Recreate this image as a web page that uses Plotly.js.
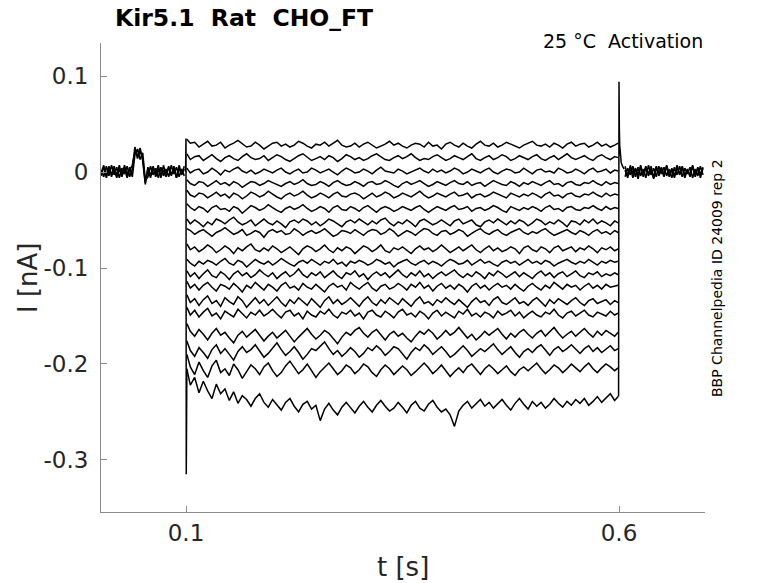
<!DOCTYPE html>
<html>
<head>
<meta charset="utf-8">
<script src="https://cdn.plot.ly/plotly-3.0.1.min.js"></script>
<style>
  html, body { margin: 0; padding: 0; background: #fff; }
  #chart { width: 778px; height: 583px; }
</style>
</head>
<body>
<div id="chart"></div>
<script>
// Kir5.1 activation sweeps, currents in pA (converted to nA below)

// holding period before the step
const preT = [0.002,0.005,0.008,0.011,0.014,0.017,0.020,0.023,0.026,0.029,0.032,0.035,0.038,
  0.041,0.044,0.047,0.050,0.053,0.056,0.059,0.062,0.065,0.068,0.071,0.074,0.077,0.080,
  0.083,0.086,0.089,0.092,0.095,0.098];
const preA = [2,-5,6,-4,7,-3,5,-6,4,-2,6,-5,3, 26,14,22,15, -13,
  5,-4,6,-5,3,-6,7,-3,5,-4,6,-6,4,-3,6];
const preB = [-4,5,-3,6,-5,4,-6,3,-4,7,-3,5,-5, 18,24,13,20, -9,
  -5,6,-3,4,-6,5,-4,3,-5,7,-2,5,-5,3,-4];
const preC = [-1,7,-6,3,-2,6,-4,7,-5,4,-6,2,7, 21,17,25,12, -11,
  3,-6,5,-2,7,-4,2,-5,6,-3,4,-6,7,-2,3];

// capacitive transients at step on / off
const onT = [0.0995, 0.1, 0.1003, 0.1006, 0.101];
const onI = [0, 35, -315, -240, -205];
const offT = [0.5995, 0.6, 0.6004, 0.6008, 0.6015, 0.6025, 0.604, 0.606];
const offI = [-234, 94, 45, 28, 18, 10, 6, 3];

// holding period after the step
const postT = [0.607,0.610,0.613,0.616,0.619,0.622,0.625,0.628,0.631,0.634,0.637,0.640,
  0.643,0.646,0.649,0.652,0.655,0.658,0.661,0.664,0.667,0.670,0.673,0.676,0.679,0.682,
  0.685,0.688,0.691,0.694,0.697];
const postA = [6,-4,5,-6,3,-3,7,-5,4,-2,6,-6,5,-4,3,-5,7,-3,4,-6,5,-2,6,-4,3,-5,6,-3,5,-6,4];
const postB = [-5,4,-3,6,-5,5,-4,3,-6,7,-3,4,-5,6,-2,5,-4,3,-6,5,-3,6,-5,4,-2,5,-6,3,-4,6,-3];
const postC = [2,-6,7,-2,4,-7,5,-1,6,-4,3,-7,6,-1,5,-3,6,-5,2,-4,7,-3,5,-6,2,-3,7,-5,4,-2,5];

// during the voltage step
const stepT = [0.101,0.105,0.110,0.115,0.120,0.125,0.130,0.135,0.140,0.145,
  0.150,0.155,0.160,0.165,0.170,0.175,0.180,0.185,0.190,0.195,
  0.200,0.205,0.210,0.215,0.220,0.225,0.230,0.235,0.240,0.245,
  0.250,0.255,0.260,0.265,0.270,0.275,0.280,0.285,0.290,0.295,
  0.300,0.305,0.310,0.315,0.320,0.325,0.330,0.335,0.340,0.345,
  0.350,0.355,0.360,0.365,0.370,0.375,0.380,0.385,0.390,0.395,
  0.400,0.405,0.410,0.415,0.420,0.425,0.430,0.435,0.440,0.445,
  0.450,0.455,0.460,0.465,0.470,0.475,0.480,0.485,0.490,0.495,
  0.500,0.505,0.510,0.515,0.520,0.525,0.530,0.535,0.540,0.545,
  0.550,0.555,0.560,0.565,0.570,0.575,0.580,0.585,0.590,0.595,
  0.599];

const sweep01 = [34,30,31,26,29,32,27,28,31,25, 28,30,33,29,26,27,31,28,24,27,
  30,31,27,29,26,28,32,30,27,25, 29,28,31,27,30,33,28,26,27,30,
  26,29,31,28,25,27,29,32,28,30, 27,25,28,30,29,26,31,27,28,24,
  29,31,28,26,30,27,25,29,32,28, 27,30,26,28,31,29,27,25,28,30,
  32,28,27,29,26,30,28,25,29,31, 27,29,30,26,28,31,27,29,26,28, 30];
const sweep02 = [19,13,16,17,12,15,18,14,11,15, 17,14,12,16,19,15,13,14,17,12,
  15,18,16,13,11,14,17,19,15,12, 14,16,13,17,15,11,14,18,16,13,
  15,12,14,17,19,16,13,12,15,17, 14,16,19,15,12,14,13,16,18,15,
  12,14,17,15,13,16,19,14,12,15, 17,13,15,18,16,12,14,17,15,13,
  16,18,14,12,15,17,13,16,19,15, 13,15,17,14,12,16,18,15,13,16, 15];
const sweep03 = [4,-1,2,3,-2,0,4,1,-3,2, 0,3,5,1,-1,2,-2,0,3,1,
  -1,2,4,0,-2,1,3,-1,0,4, 2,-1,1,3,0,-3,1,4,2,-1,
  0,3,1,-2,2,5,1,0,-1,3, 1,-2,0,2,4,1,-1,3,0,2,
  -1,1,4,2,-2,0,3,1,-1,2, 4,0,-2,1,3,2,-1,0,4,1,
  -2,2,3,0,1,-1,4,2,-1,0, 3,1,-2,2,4,0,1,3,-1,2, 1];
const sweep04 = [-8,-12,-14,-10,-11,-15,-12,-9,-13,-11, -14,-10,-12,-16,-13,-10,-11,-14,-12,-9,
  -11,-13,-15,-12,-10,-13,-11,-8,-12,-14, -13,-10,-12,-15,-11,-9,-12,-14,-13,-10,
  -12,-15,-11,-10,-13,-12,-9,-11,-14,-16, -12,-10,-13,-11,-9,-12,-15,-13,-10,-12,
  -14,-11,-9,-12,-13,-10,-14,-12,-11,-15, -12,-9,-11,-13,-14,-10,-12,-15,-11,-13,
  -10,-12,-14,-11,-9,-13,-12,-15,-11,-10, -13,-14,-11,-12,-9,-12,-14,-10,-13,-11, -12];
const sweep05 = [-19,-24,-26,-22,-23,-27,-24,-21,-25,-23, -27,-22,-24,-28,-25,-21,-23,-26,-24,-20,
  -23,-26,-28,-24,-22,-25,-23,-20,-24,-27, -25,-22,-24,-27,-23,-21,-25,-26,-23,-22,
  -24,-28,-25,-22,-26,-24,-21,-23,-27,-25, -22,-24,-26,-23,-20,-24,-27,-25,-22,-24,
  -26,-23,-21,-25,-24,-22,-27,-24,-23,-26, -24,-21,-23,-25,-27,-22,-24,-26,-23,-25,
  -22,-24,-27,-23,-21,-25,-24,-27,-23,-22, -25,-26,-23,-24,-21,-24,-26,-22,-25,-23, -24];
const sweep06 = [-33,-37,-40,-36,-38,-42,-37,-35,-39,-38, -41,-36,-38,-43,-39,-35,-37,-40,-38,-34,
  -37,-40,-42,-38,-36,-39,-37,-34,-38,-41, -39,-36,-38,-42,-37,-35,-39,-40,-36,-38,
  -41,-37,-35,-39,-42,-38,-36,-38,-41,-39, -36,-38,-40,-37,-35,-39,-42,-39,-36,-38,
  -40,-37,-35,-39,-38,-36,-41,-38,-37,-40, -38,-35,-37,-40,-42,-36,-38,-40,-37,-39,
  -36,-38,-41,-37,-35,-39,-38,-41,-37,-36, -39,-40,-37,-38,-35,-38,-40,-36,-39,-37, -38];
const sweep07 = [-49,-54,-50,-53,-57,-52,-55,-49,-51,-54, -50,-47,-52,-55,-53,-50,-56,-52,-49,-53,
  -55,-51,-54,-58,-52,-50,-53,-49,-51,-55, -52,-56,-53,-49,-51,-54,-57,-52,-50,-53,
  -49,-52,-55,-51,-54,-50,-48,-53,-56,-52, -54,-50,-53,-57,-51,-49,-52,-55,-53,-50,
  -53,-56,-51,-49,-54,-52,-50,-55,-57,-52, -50,-53,-49,-52,-55,-51,-54,-50,-52,-56,
  -53,-49,-51,-55,-52,-54,-50,-53,-57,-51, -52,-55,-50,-53,-49,-54,-51,-53,-56,-51, -53];
const sweep08 = [-59,-61,-65,-62,-60,-64,-67,-63,-61,-58, -62,-65,-63,-60,-66,-64,-61,-63,-68,-62,
  -60,-63,-61,-65,-64,-59,-62,-66,-63,-61, -64,-62,-59,-63,-67,-65,-61,-62,-64,-60,
  -63,-66,-62,-60,-61,-65,-63,-59,-62,-67, -64,-61,-63,-66,-62,-59,-60,-64,-66,-62,
  -61,-65,-63,-60,-62,-67,-64,-61,-59,-63, -65,-62,-60,-64,-66,-63,-61,-59,-63,-65,
  -62,-64,-61,-59,-63,-66,-64,-62,-60,-63, -65,-61,-63,-66,-62,-60,-64,-62,-65,-61, -63];
const sweep09 = [-75,-81,-78,-83,-80,-76,-79,-84,-81,-77, -80,-85,-79,-82,-78,-75,-81,-83,-79,-82,
  -77,-80,-84,-81,-78,-82,-86,-80,-77,-79, -83,-80,-76,-81,-84,-79,-82,-78,-80,-85,
  -81,-77,-79,-83,-80,-76,-82,-84,-79,-81, -78,-82,-85,-80,-77,-81,-79,-83,-80,-76,
  -80,-84,-81,-78,-82,-79,-76,-81,-84,-80, -77,-82,-79,-83,-81,-78,-80,-85,-79,-77,
  -81,-83,-78,-80,-84,-79,-77,-82,-80,-78, -83,-79,-81,-77,-80,-84,-79,-81,-78,-82, -80];
const sweep10 = [-91,-95,-98,-93,-96,-92,-94,-97,-93,-90, -95,-97,-92,-94,-99,-95,-91,-94,-96,-93,
  -97,-94,-90,-93,-96,-98,-94,-92,-95,-91, -94,-97,-93,-95,-91,-96,-94,-98,-93,-95,
  -92,-94,-97,-95,-91,-93,-96,-94,-99,-95, -93,-91,-95,-97,-94,-92,-96,-93,-95,-98,
  -94,-91,-93,-96,-95,-92,-97,-94,-91,-95, -93,-96,-98,-94,-92,-95,-93,-97,-94,-91,
  -95,-93,-96,-92,-94,-98,-95,-93,-91,-94, -96,-93,-95,-91,-94,-97,-93,-95,-92,-94, -93];
const sweep11 = [-103,-109,-105,-111,-106,-102,-108,-110,-104,-107, -112,-106,-103,-108,-105,-110,-107,-102,-106,-109,
  -105,-111,-107,-104,-109,-106,-101,-107,-110,-105, -108,-104,-110,-106,-103,-108,-111,-105,-107,-103,
  -109,-106,-112,-107,-104,-108,-105,-110,-106,-102, -107,-110,-105,-108,-103,-109,-106,-111,-107,-104,
  -108,-105,-102,-107,-110,-106,-109,-104,-107,-111, -105,-108,-103,-106,-110,-107,-104,-109,-105,-108,
  -111,-106,-103,-108,-105,-110,-106,-104,-109,-106, -103,-108,-110,-105,-107,-104,-109,-106,-108,-105, -107];
const sweep12 = [-114,-121,-117,-123,-118,-115,-120,-124,-117,-119, -122,-116,-120,-125,-118,-121,-115,-119,-123,-117,
  -120,-124,-118,-115,-121,-119,-123,-116,-120,-122, -117,-121,-125,-119,-116,-120,-118,-123,-115,-119,
  -122,-118,-115,-121,-124,-119,-117,-122,-120,-116, -119,-123,-117,-120,-115,-121,-118,-124,-119,-116,
  -121,-118,-122,-117,-120,-125,-119,-116,-121,-118, -123,-119,-116,-120,-118,-122,-117,-121,-124,-119,
  -116,-120,-123,-118,-121,-115,-119,-122,-117,-120, -118,-123,-119,-116,-121,-118,-122,-117,-120,-119, -118];
const sweep13 = [-128,-136,-132,-139,-133,-129,-137,-134,-140,-131, -135,-138,-130,-134,-141,-136,-131,-137,-133,-139,
  -134,-130,-136,-140,-133,-137,-131,-135,-139,-132, -136,-141,-134,-130,-137,-133,-138,-135,-131,-136,
  -140,-134,-130,-136,-139,-133,-137,-131,-135,-138, -132,-136,-140,-134,-130,-137,-135,-139,-133,-136,
  -131,-135,-138,-133,-137,-141,-135,-131,-136,-134, -139,-133,-130,-136,-138,-134,-131,-137,-135,-139,
  -134,-131,-136,-140,-133,-137,-132,-135,-138,-134, -131,-136,-139,-134,-132,-137,-135,-133,-138,-134, -136];
const sweep14 = [-141,-149,-144,-151,-146,-142,-150,-147,-153,-145, -148,-151,-143,-147,-152,-146,-149,-144,-150,-147,
  -143,-148,-152,-146,-144,-150,-147,-153,-145,-149, -151,-145,-148,-143,-149,-152,-146,-148,-144,-150,
  -147,-153,-146,-144,-149,-151,-145,-148,-152,-146, -143,-149,-147,-151,-145,-148,-153,-147,-144,-150,
  -146,-149,-152,-145,-148,-143,-150,-147,-151,-146, -148,-152,-145,-149,-147,-144,-150,-146,-152,-148,
  -145,-149,-151,-146,-148,-143,-149,-152,-147,-145, -150,-147,-144,-149,-151,-146,-148,-150,-145,-149, -147];
const sweep15 = [-158,-166,-171,-164,-169,-175,-168,-163,-170,-167, -173,-178,-170,-166,-172,-168,-164,-170,-176,-171,
  -167,-173,-169,-165,-171,-177,-172,-168,-163,-169, -174,-170,-165,-168,-173,-179,-172,-167,-170,-165,
  -162,-168,-172,-167,-164,-170,-175,-169,-166,-171, -168,-173,-177,-171,-166,-169,-164,-168,-174,-170,
  -165,-170,-167,-162,-168,-173,-169,-175,-171,-166, -170,-166,-163,-169,-174,-168,-172,-167,-164,-169,
  -173,-168,-165,-171,-167,-162,-168,-173,-169,-166, -171,-167,-163,-168,-172,-166,-170,-165,-168,-171, -167];
const sweep16 = [-176,-186,-192,-183,-188,-194,-185,-180,-189,-184, -190,-196,-187,-182,-188,-185,-180,-186,-193,-189,
  -183,-178,-185,-191,-187,-182,-188,-195,-190,-184, -186,-181,-177,-184,-190,-186,-192,-188,-183,-187,
  -193,-189,-183,-186,-181,-185,-191,-187,-182,-184, -189,-195,-188,-183,-186,-180,-184,-190,-186,-182,
  -187,-193,-190,-185,-181,-186,-192,-188,-184,-187, -183,-179,-185,-190,-186,-182,-188,-193,-187,-184,
  -188,-183,-180,-186,-191,-185,-182,-187,-184,-180, -185,-189,-184,-181,-187,-183,-188,-184,-181,-186, -184];
const sweep17 = [-190,-203,-211,-198,-207,-214,-202,-196,-209,-205, -212,-200,-206,-215,-208,-201,-205,-211,-203,-199,
  -207,-213,-209,-202,-197,-204,-210,-206,-200,-207, -214,-208,-203,-199,-205,-211,-207,-201,-204,-210,
  -206,-200,-203,-209,-213,-206,-201,-205,-211,-207, -202,-206,-212,-208,-203,-199,-204,-210,-206,-201,
  -207,-213,-208,-204,-209,-203,-200,-206,-211,-205, -201,-205,-210,-206,-202,-208,-212,-206,-203,-207,
  -203,-199,-205,-210,-206,-201,-204,-209,-205,-200, -204,-208,-203,-199,-205,-209,-204,-200,-203,-207, -204];
const sweep18 = [-205,-222,-214,-230,-218,-228,-236,-221,-231,-226, -238,-229,-241,-233,-237,-244,-236,-231,-240,-245,
  -237,-243,-248,-240,-236,-244,-250,-242,-239,-247, -243,-259,-247,-241,-248,-253,-245,-240,-246,-251,
  -244,-239,-245,-250,-243,-238,-244,-249,-246,-240, -245,-251,-243,-239,-246,-249,-242,-238,-245,-250,
  -247,-253,-265,-249,-243,-239,-246,-241,-237,-244, -240,-246,-242,-237,-243,-248,-241,-236,-242,-247,
  -239,-244,-240,-246,-242,-236,-241,-245,-239,-243, -237,-241,-236,-243,-239,-234,-240,-236,-231,-238, -234];

const sweeps = [sweep01, sweep02, sweep03, sweep04, sweep05, sweep06, sweep07, sweep08, sweep09,
  sweep10, sweep11, sweep12, sweep13, sweep14, sweep15, sweep16, sweep17, sweep18];

const yTicks = [-0.3, -0.2, -0.1, 0, 0.1];
const yTickText = ['-0.3', '-0.2', '-0.1', '0', '0.1'];
const xTicks = [0.1, 0.6];
const xTickText = ['0.1', '0.6'];

const toNA = arr => arr.map(v => v / 1000);

const FONT = 'DejaVu Sans, Liberation Sans, sans-serif';
const INK = '#262626';
const AXIS = '#8a8a8a';

function line(x, y, w) {
    return {
        x: x,
        y: toNA(y),
        type: 'scatter',
        mode: 'lines',
        line: { color: '#000000', width: w || 1.4 },
        hoverinfo: 'skip',
        showlegend: false
    };
}

const traces = [
    line(preT, preA, 1.6), line(preT, preB, 1.6), line(preT, preC, 1.6),
    line(postT, postA, 1.6), line(postT, postB, 1.6), line(postT, postC, 1.6)
];
for (const s of sweeps) traces.push(line(stepT, s, 1.5));
traces.push(line(onT, onI, 1.5));
traces.push(line(offT, offI, 1.5));

const layout = {
    width: 778,
    height: 583,
    paper_bgcolor: '#ffffff',
    plot_bgcolor: '#ffffff',
    margin: { l: 101, r: 73, t: 43, b: 71 },
    font: { family: FONT, color: INK },
    title: {
        text: 'Kir5.1\u00a0\u00a0Rat\u00a0\u00a0CHO_FT',
        font: { family: FONT, size: 23.5, color: '#000000', weight: 'bold' },
        x: 115 / 778,
        xanchor: 'left',
        y: 1 - 18 / 583,
        yanchor: 'middle'
    },
    xaxis: {
        range: [0.00185, 0.6993],
        tickvals: xTicks,
        ticktext: xTickText,
        ticks: 'inside',
        ticklen: 6,
        tickcolor: AXIS,
        tickfont: { family: FONT, size: 23, color: INK },
        ticklabelstandoff: 0,
        showline: true,
        linecolor: AXIS,
        linewidth: 1,
        showgrid: false,
        zeroline: false,
        fixedrange: true
    },
    yaxis: {
        range: [-0.3542, 0.1344],
        tickvals: yTicks,
        ticktext: yTickText,
        ticks: 'inside',
        ticklen: 6,
        tickcolor: AXIS,
        tickfont: { family: FONT, size: 23, color: INK },
        ticklabelstandoff: 7,
        showline: true,
        linecolor: AXIS,
        linewidth: 1,
        showgrid: false,
        zeroline: false,
        fixedrange: true
    },
    annotations: [
        {
            text: 't [s]', xref: 'paper', yref: 'paper',
            x: (403 - 101) / 604, y: -(567 - 512) / 469,
            xanchor: 'center', yanchor: 'middle', showarrow: false,
            font: { family: FONT, size: 26, color: INK }
        },
        {
            text: 'I [nA]', xref: 'paper', yref: 'paper',
            x: -(101 - 28) / 604, y: (512 - 278) / 469,
            xanchor: 'center', yanchor: 'middle', showarrow: false, textangle: -90,
            font: { family: FONT, size: 26, color: INK }
        },
        {
            text: '25 °C\u00a0\u00a0Activation', xref: 'paper', yref: 'paper',
            x: 1, y: (512 - 41) / 469,
            xanchor: 'right', yanchor: 'middle', showarrow: false,
            font: { family: FONT, size: 19, color: '#000000' }
        },
        {
            text: 'BBP Channelpedia ID 24009 rep 2', xref: 'paper', yref: 'paper',
            x: 1 + (717 - 705) / 604, y: (512 - 278) / 469,
            xanchor: 'center', yanchor: 'middle', showarrow: false, textangle: -90,
            font: { family: FONT, size: 14, color: '#000000' }
        }
    ]
};

Plotly.newPlot('chart', traces, layout, { displayModeBar: false, staticPlot: true });
</script>
</body>
</html>
